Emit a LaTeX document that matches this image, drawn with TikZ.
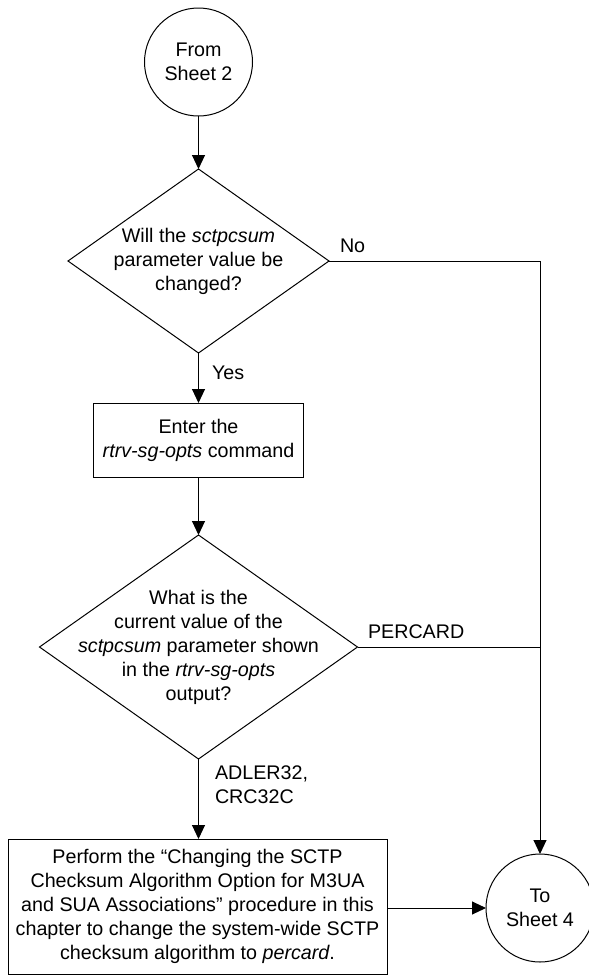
\documentclass[tikz,border=0pt]{standalone}
\usepackage{fontspec}
\setmainfont{Liberation Sans}
\usetikzlibrary{shapes.geometric,arrows.meta}
\begin{document}
\begin{tikzpicture}[x=1pt,y=-1pt,
  every node/.style={font=\fontsize{19.7pt}{24pt}\selectfont, inner sep=0pt, outer sep=0pt},
  lw/.style={line width=1pt},
  term/.style={draw, lw, circle, minimum size=108pt, align=center},
  dec/.style={draw, lw, diamond},
  proc/.style={draw, lw, rectangle, align=center},
  txt/.style={align=center},
  lbl/.style={anchor=west, align=left},
  flow/.style={lw, -{Triangle[length=14pt,width=13pt]}},
  plain/.style={lw}
]
\useasboundingbox (0,0) rectangle (589,975);
\node[term] (c1) at (198.5,62) {From\\Sheet 2};
\node[dec, minimum width=261pt, minimum height=184pt] (d1) at (198.5,261) {};
\node[txt] (t1) at (d1) {Will the \textit{sctpcsum}\\parameter value be\\changed?};
\node[proc, minimum width=210pt, minimum height=74pt] (b1) at (198.5,440) {Enter the\\\textit{rtrv-sg-opts} command};
\node[dec, minimum width=318pt, minimum height=224pt] (d2) at (198.5,647) {};
\node[txt] (t2) at (d2) {What is the\\current value of the\\\textit{sctpcsum} parameter shown\\in the \textit{rtrv-sg-opts}\\output?};
\node[proc, minimum width=379pt, minimum height=135pt] (b2) at (197.5,906.5) {Perform the “Changing the SCTP\\Checksum Algorithm Option for M3UA\\and SUA Associations” procedure in this\\chapter to change the system-wide SCTP\\checksum algorithm to \textit{percard}.};
\node[term] (c2) at (540,908) {To\\Sheet 4};

\node[lbl] (lno) at (340,246) {No};
\node[lbl] (lyes) at (212,373) {Yes};
\node[lbl] (lper) at (368,632) {PERCARD};
\node[lbl] (ladl) at (215,785) {ADLER32,\\CRC32C};

\draw[flow] (c1) -- (d1.north);
\draw[flow] (d1.south) -- (b1.north);
\draw[flow] (b1.south) -- (d2.north);
\draw[flow] (d2.south) -- (b2.north -| d2.south);
\draw[flow] (d1.east) -- (d1.east -| c2) -- (c2.north);
\draw[plain] (d2.east) -- (d2.east -| c2);
\draw[flow] (c2.west -| b2.east) -- (c2.west);
\end{tikzpicture}
\end{document}
